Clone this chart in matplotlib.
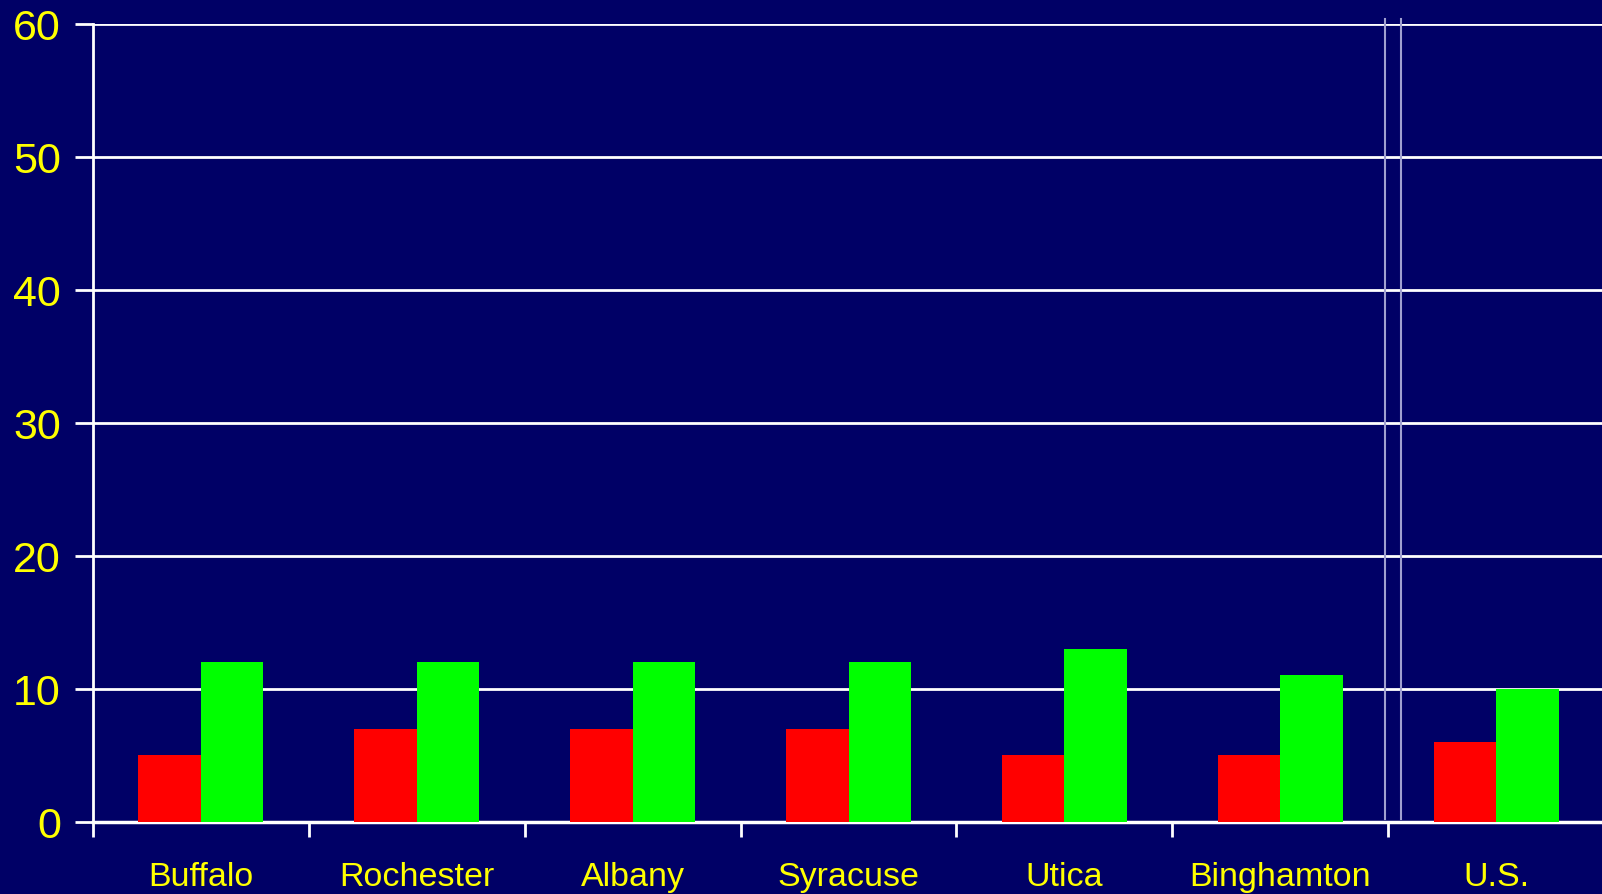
import numpy as np
import matplotlib
matplotlib.use("Agg")
import matplotlib.pyplot as plt

plt.rcParams["font.family"] = ["Liberation Sans", "DejaVu Sans"]

# data
cities = ["Buffalo", "Rochester", "Albany", "Syracuse", "Utica", "Binghamton", "U.S."]
red_vals = [5, 7, 7, 7, 5, 5, 6]
green_vals = [12, 12, 12, 12, 13, 11, 10]
yticks = [0, 10, 20, 30, 40, 50, 60]

bg = "#000066"
fg = "#ffff00"

fig = plt.figure(figsize=(16.02, 8.95), dpi=100, facecolor=bg)
ax = fig.add_axes([0.058, 0.0808, 0.942, 0.8916], facecolor=bg)

x = np.arange(len(cities))
w = 0.29
ax.bar(x - w / 2, red_vals, width=w, color="#ff0000", zorder=3)
ax.bar(x + w / 2, green_vals, width=w, color="#00ff00", zorder=3)

ax.set_xlim(-0.5, 6.49)
ax.set_ylim(0, 60)
ax.set_yticks(yticks)
ax.yaxis.grid(True, color="white", linewidth=2, zorder=0)
ax.set_axisbelow(True)

# category boundaries as ticks, labels in the middle
ax.set_xticks(np.arange(len(cities)) - 0.5)
ax.set_xticklabels([])
ax.set_xticks(x, minor=True)
ax.set_xticklabels(cities, minor=True)
ax.tick_params(axis="x", which="major", direction="out", length=11, width=2, color="white")
ax.tick_params(axis="x", which="minor", length=0, pad=28, labelsize=24.5, labelcolor=fg)
ax.tick_params(axis="y", direction="out", length=13, width=2, color="white",
               labelsize=31, labelcolor=fg, pad=10)

for s in ["top", "right"]:
    ax.spines[s].set_visible(False)
ax.spines["left"].set_color("white")
ax.spines["left"].set_linewidth(2)
ax.spines["bottom"].set_color("white")
ax.spines["bottom"].set_linewidth(2.5)

# double separator before the U.S. column
for xv in [5.487, 5.561]:
    ax.axvline(xv, ymin=0.003, ymax=1.006, color="#a0a0d0", linewidth=1.5, zorder=2, clip_on=False)

fig.savefig("out.png", dpi=100, facecolor=bg)
